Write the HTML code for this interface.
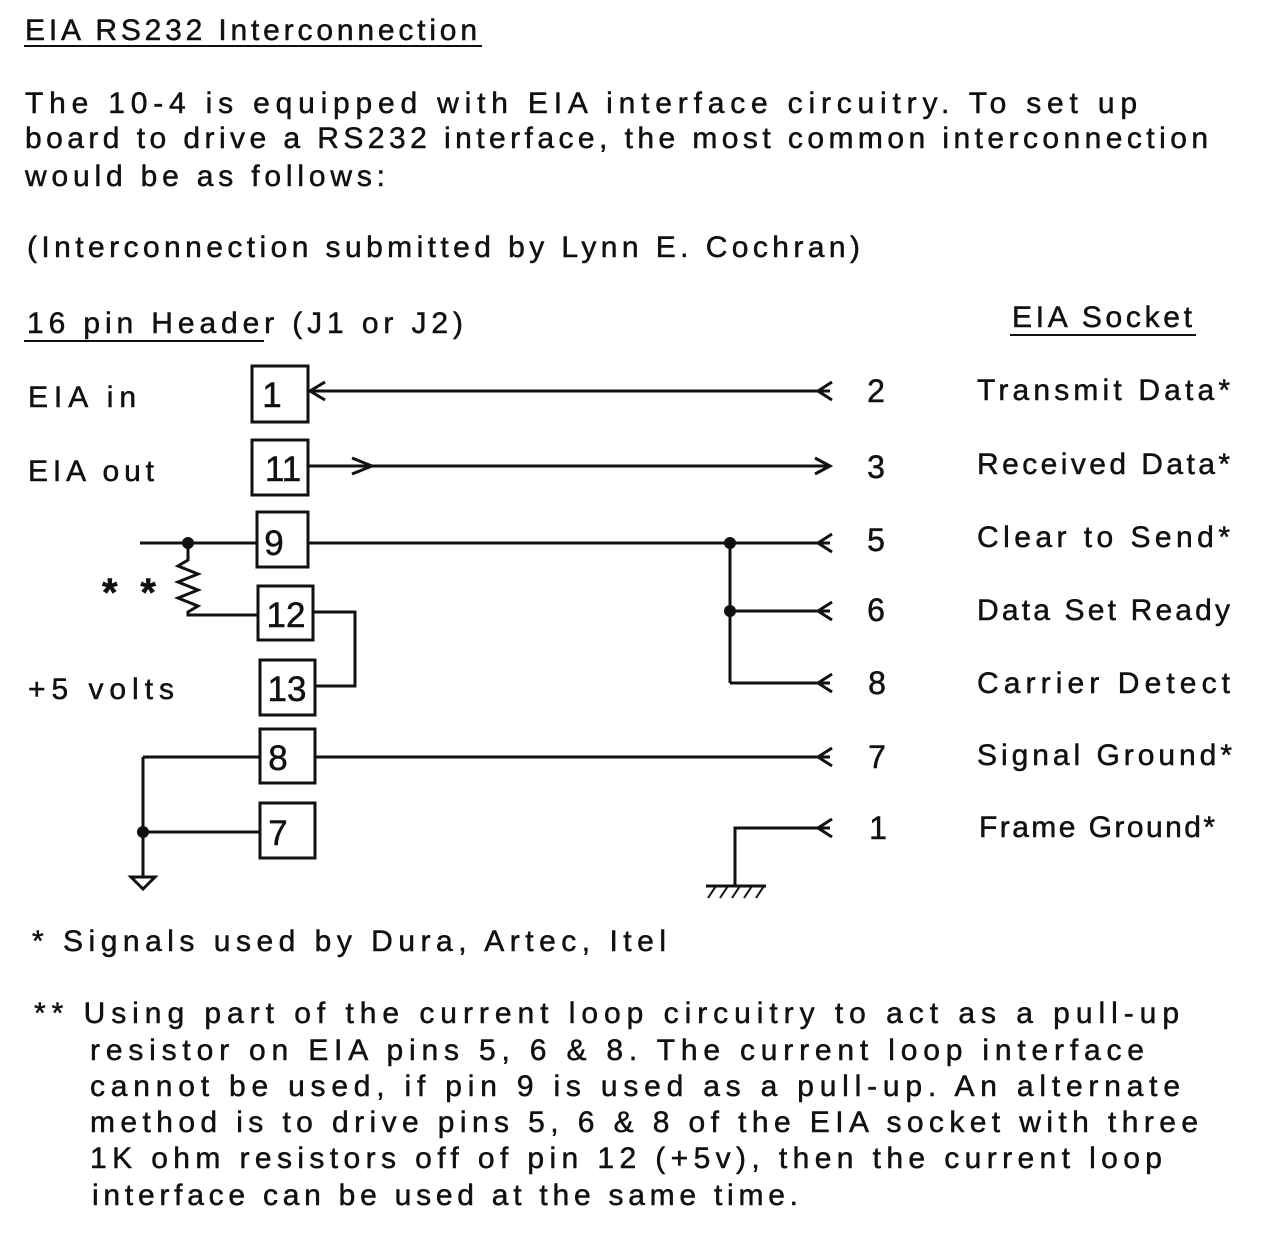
<!DOCTYPE html>
<html><head><meta charset="utf-8"><style>
html,body{margin:0;padding:0;background:#fff}
svg{display:block}
text{font-family:"Liberation Sans","DejaVu Sans",sans-serif;font-size:30px;fill:#111;stroke:#111;stroke-width:0.5}
.big{font-size:35px}
.num{font-size:32px}
.ast{font-size:40px;font-weight:bold}
</style></head><body>
<svg width="1278" height="1244" viewBox="0 0 1278 1244" xmlns="http://www.w3.org/2000/svg">
<g>
<text x="25" y="40" textLength="452" lengthAdjust="spacing">EIA RS232 Interconnection</text>
<line x1="24" y1="46" x2="482" y2="46" stroke="#111" stroke-width="2"/>
<text x="25" y="113" textLength="1112" lengthAdjust="spacing">The 10-4 is equipped with EIA interface circuitry.  To set up</text>
<text x="25" y="148" textLength="1183" lengthAdjust="spacing">board to drive a RS232 interface, the most common interconnection</text>
<text x="25" y="186" textLength="360" lengthAdjust="spacing">would be as follows:</text>
<text x="27" y="257" textLength="833" lengthAdjust="spacing">(Interconnection submitted by Lynn E. Cochran)</text>
<text x="27" y="333" textLength="436" lengthAdjust="spacing">16 pin Header (J1 or J2)</text>
<line x1="24" y1="341" x2="264" y2="341" stroke="#111" stroke-width="2"/>
<text x="1012" y="327" textLength="180" lengthAdjust="spacing">EIA Socket</text>
<line x1="1010" y1="335" x2="1196" y2="335" stroke="#111" stroke-width="2"/>

<text x="28" y="407" textLength="108" lengthAdjust="spacing">EIA in</text>
<text x="28" y="481" textLength="126" lengthAdjust="spacing">EIA out</text>
<text x="28" y="699" textLength="146" lengthAdjust="spacing">+5 volts</text>
<text class="ast" x="102" y="606" textLength="54" lengthAdjust="spacing">**</text>

<g fill="none" stroke="#111" stroke-width="3">
<rect x="252" y="366" width="56" height="56"/>
<rect x="252" y="440" width="56" height="55"/>
<rect x="257" y="512" width="51" height="55"/>
<rect x="258" y="586" width="55" height="54"/>
<rect x="260" y="660" width="55" height="55"/>
<rect x="260" y="729" width="55" height="54"/>
<rect x="260" y="803" width="55" height="55"/>
<line x1="308" y1="391" x2="830" y2="391"/>
<polyline points="325,382 310,391 325,400"/>
<polyline points="832,382 818,391 832,400"/>
<line x1="308" y1="466" x2="830" y2="466"/>
<polyline points="352,458 372,466 352,474"/>
<polyline points="815,458 830,466 815,474"/>
<line x1="140" y1="543" x2="257" y2="543"/>
<line x1="308" y1="543" x2="830" y2="543"/>
<polyline points="832,534 818,543 832,552"/>
<polyline points="188,543 188,560 178,566 198,574 178,582 198,590 178,598 198,606 188,612 188,615 258,615"/>
<polyline points="313,612 355,612 355,686 315,686"/>
<line x1="730" y1="543" x2="730" y2="683"/>
<line x1="730" y1="611" x2="830" y2="611"/>
<polyline points="832,602 818,611 832,620"/>
<line x1="730" y1="683" x2="830" y2="683"/>
<polyline points="832,674 818,683 832,692"/>
<line x1="143" y1="757" x2="260" y2="757"/>
<line x1="315" y1="757" x2="830" y2="757"/>
<polyline points="832,748 818,757 832,766"/>
<line x1="143" y1="757" x2="143" y2="876"/>
<line x1="143" y1="832" x2="260" y2="832"/>
<polygon points="131,877 155,877 143,889"/>
<polyline points="735,885 735,828 830,828"/>
<polyline points="832,819 818,828 832,837"/>
<line x1="706" y1="886" x2="766" y2="886"/>
</g>
<g stroke="#111" stroke-width="2">
<line x1="716" y1="886" x2="708" y2="898"/><line x1="728" y1="886" x2="720" y2="898"/>
<line x1="740" y1="886" x2="732" y2="898"/><line x1="752" y1="886" x2="744" y2="898"/>
<line x1="764" y1="886" x2="756" y2="898"/>
</g>
<g fill="#111">
<circle cx="188" cy="543" r="6"/><circle cx="730" cy="543" r="6"/>
<circle cx="730" cy="611" r="6"/><circle cx="143" cy="832" r="6"/>
</g>
<g text-anchor="middle">
<text class="big" x="272" y="407">1</text><text class="big" x="283" y="481">11</text>
<text class="big" x="274" y="555">9</text><text class="big" x="286" y="627">12</text>
<text class="big" x="287" y="701">13</text><text class="big" x="278" y="770">8</text>
<text class="big" x="278" y="845">7</text>
<text class="num" x="876" y="402">2</text><text class="num" x="876" y="478">3</text>
<text class="num" x="876" y="551">5</text><text class="num" x="876" y="621">6</text>
<text class="num" x="877" y="694">8</text><text class="num" x="877" y="768">7</text>
<text class="num" x="878" y="839">1</text>
</g>
<text x="977" y="400" textLength="253" lengthAdjust="spacing">Transmit Data*</text>
<text x="977" y="474" textLength="253" lengthAdjust="spacing">Received Data*</text>
<text x="977" y="547" textLength="253" lengthAdjust="spacing">Clear to Send*</text>
<text x="977" y="620" textLength="253" lengthAdjust="spacing">Data Set Ready</text>
<text x="977" y="693" textLength="253" lengthAdjust="spacing">Carrier Detect</text>
<text x="977" y="765" textLength="255" lengthAdjust="spacing">Signal Ground*</text>
<text x="979" y="837" textLength="236" lengthAdjust="spacing">Frame Ground*</text>

<text x="32" y="951" textLength="634" lengthAdjust="spacing">* Signals used by Dura, Artec, Itel</text>
<text x="34" y="1023" textLength="1145" lengthAdjust="spacing">** Using part of the current loop circuitry to act as a pull-up</text>
<text x="90" y="1060" textLength="1054" lengthAdjust="spacing">resistor on EIA pins 5, 6 &amp; 8.  The current loop interface</text>
<text x="90" y="1096" textLength="1090" lengthAdjust="spacing">cannot be used, if pin 9 is used as a pull-up.  An alternate</text>
<text x="90" y="1132" textLength="1108" lengthAdjust="spacing">method is to drive pins 5, 6 &amp; 8 of the EIA socket with three</text>
<text x="90" y="1168" textLength="1072" lengthAdjust="spacing">1K ohm resistors off of pin 12 (+5v), then the current loop</text>
<text x="92" y="1205" textLength="706" lengthAdjust="spacing">interface can be used at the same time.</text>
</g>
</svg>
</body></html>
